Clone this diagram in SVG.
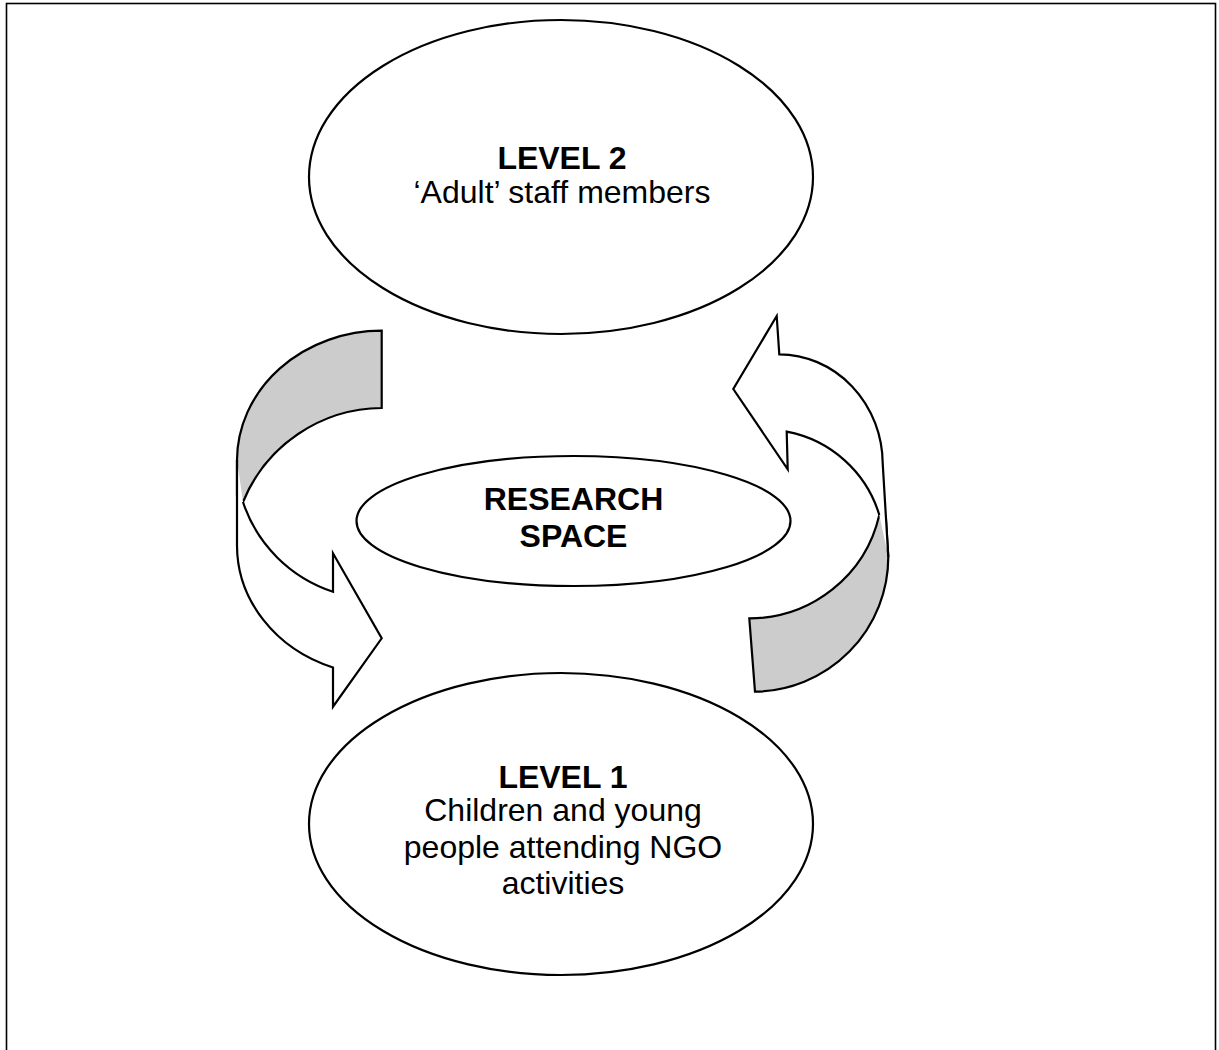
<svg xmlns="http://www.w3.org/2000/svg" width="1219" height="1050" viewBox="0 0 1219 1050">
<style>
.sh{stroke:#000;stroke-width:2.2;stroke-linejoin:miter}
.ell{fill:#fff;stroke:#000;stroke-width:2.2}
.gray{fill:#cccccc}
.t{font-family:"Liberation Sans",Arial,sans-serif;font-size:32px;text-anchor:middle;fill:#000}
.b{font-weight:bold}
</style>
<rect x="0" y="0" width="1219" height="1050" fill="#fff"/>
<rect x="6.5" y="3.5" width="1209" height="1070" fill="none" stroke="#000" stroke-width="1.6"/>
<g id="connectors">
  <g id="arrow-left">
    <path class="sh gray" d="M381.7,330.7 A145,130 0 0 0 237,460 L237,495 L243,502 A151,151 0 0 1 381.7,408 Z"/>
    <path class="sh" fill="#fff" d="M237,460 L237,545 A145,130 0 0 0 333,667.5 L333,706.7 L381.7,638.3 L333,553.3 L333,591.7 A142,140 0 0 1 243,502"/>
  </g>
  <g id="arrow-right">
    <path class="sh gray" d="M749.3,618.3 A133,133 0 0 0 879.3,515 L886,520 L888.3,556.7 A135,135 0 0 1 755,691.7 Z"/>
    <path class="sh" fill="#fff" d="M879.3,515 A120,120 0 0 0 786.7,431.7 L787.7,469.3 L733.3,389 L776.7,316 L779.3,354.3 A104,110 0 0 1 882.7,463.3 L888.3,556.7"/>
  </g>
</g>
<g id="level2">
  <ellipse class="ell" cx="561" cy="177" rx="252" ry="157"/>
  <text class="t b" x="562" y="169">LEVEL 2</text>
  <text class="t" x="562" y="203">‘Adult’ staff members</text>
</g>
<g id="research">
  <ellipse class="ell" cx="573.5" cy="521" rx="217" ry="65"/>
  <text class="t b" x="573.5" y="510">RESEARCH</text>
  <text class="t b" x="573.5" y="547">SPACE</text>
</g>
<g id="level1">
  <ellipse class="ell" cx="561" cy="824" rx="252" ry="151"/>
  <text class="t b" x="563" y="788">LEVEL 1</text>
  <text class="t" x="563" y="821">Children and young</text>
  <text class="t" x="563" y="858">people attending NGO</text>
  <text class="t" x="563" y="894">activities</text>
</g>
</svg>
